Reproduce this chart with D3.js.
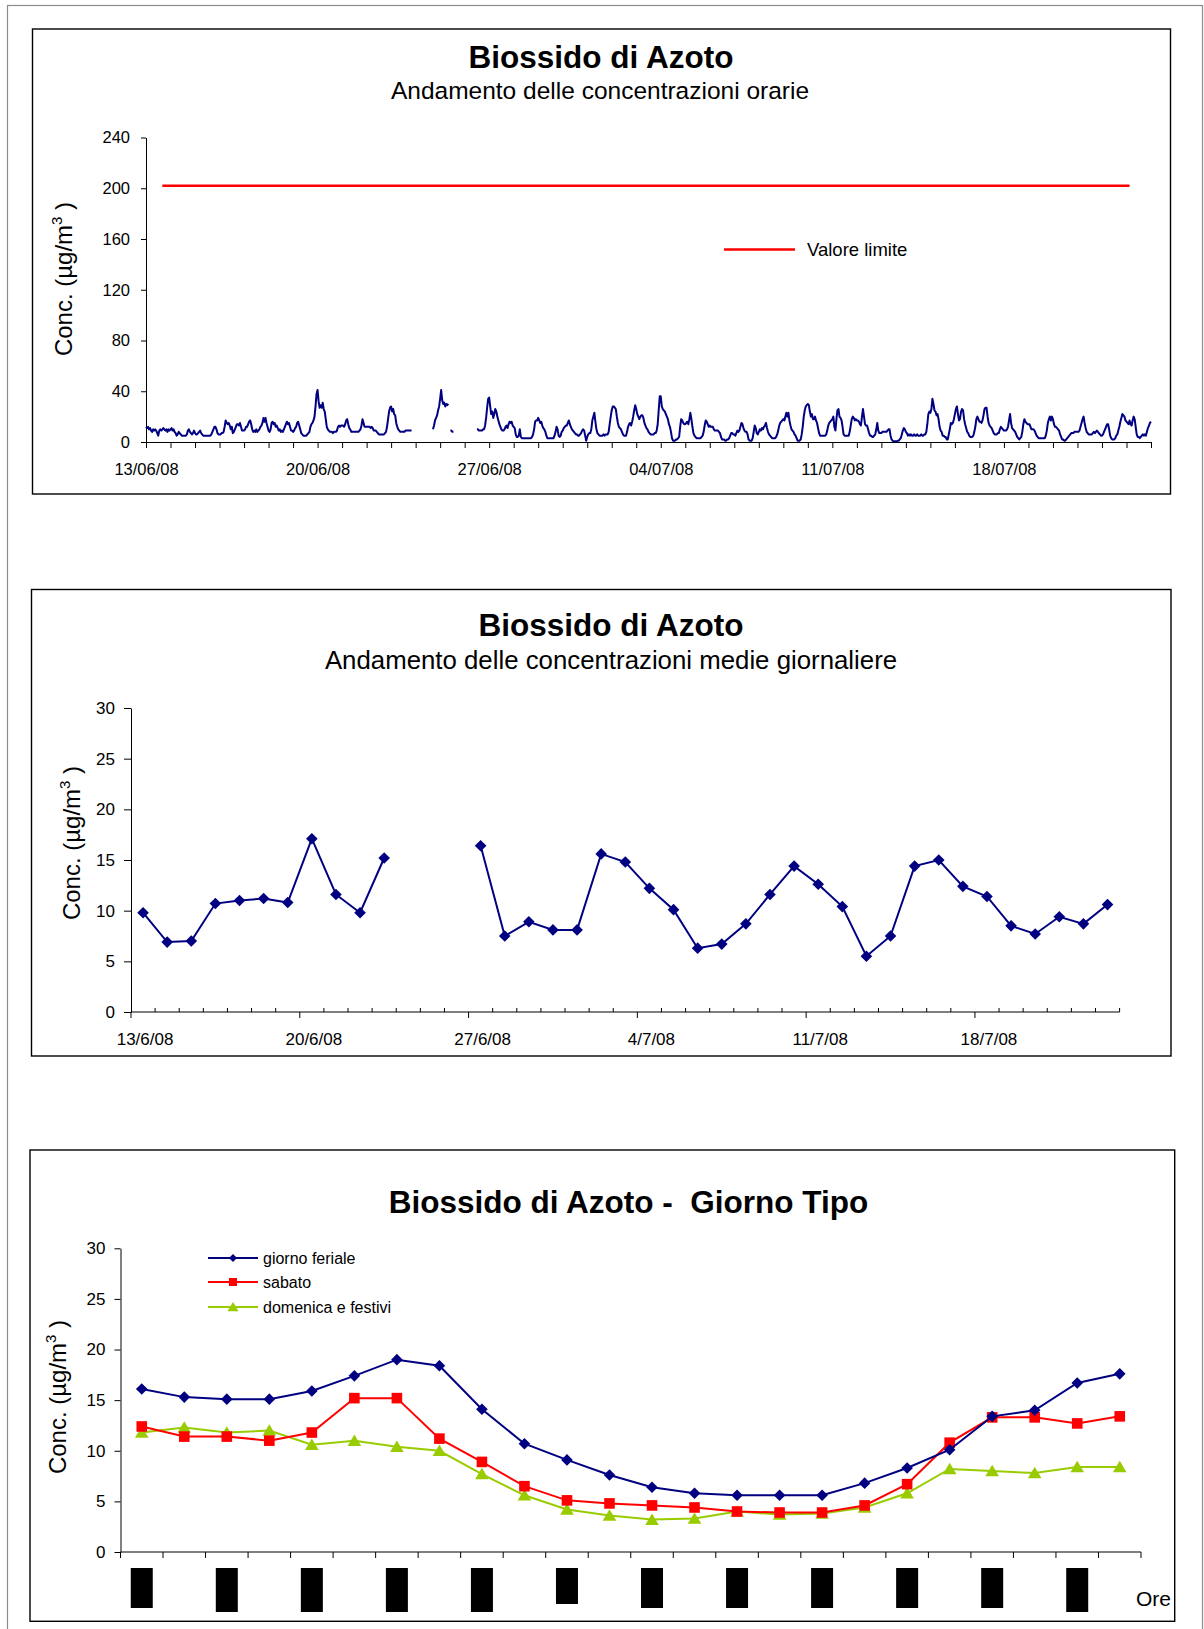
<!DOCTYPE html>
<html><head><meta charset="utf-8">
<script src="https://cdn.jsdelivr.net/npm/d3@7"></script>
<style>
body{margin:0;background:#fff}
svg{display:block}
text{font-family:"Liberation Sans",Arial,sans-serif;fill:#000}
</style>
</head><body>
<svg id="c" width="1204" height="1629"></svg>
<script>
// ---------------- DATA ----------------
// Chart 1: hourly NO2 (µg/m³), one row per day from 13/06/08, 24 values each (null = missing)
const hourlyStart = new Date(2008, 5, 13, 0);
const hourlyEnd = new Date(2008, 6, 24, 0);
const hourlyNO2 = [
 12,11,12,10,11,9,8,10,9,10,9,7,5,9,10,9,10,11,10,9,10,8,10,9,          // 13/06
 10,11,9,10,8,7,5,6,8,7,6,5,5,5,5,5,6,9,10,8,7,6,7,9,                   // 14/06
 7,6,6,7,8,9,7,6,5,5,5,5,5,5,5,5,6,8,10,12,12,10,7,6,                   // 15/06
 6,6,7,7,8,12,17,15,14,15,13,10,12,7,8,10,12,14,14,13,15,12,9,9,        // 16/06
 9,10,12,12,14,16,17,14,10,8,9,8,10,8,9,10,12,13,15,19,16,19,15,12,     // 17/06
 9,8,10,15,16,14,15,12,13,11,9,10,8,9,8,10,12,14,16,14,15,12,9,9,       // 18/06
 8,9,11,12,15,16,13,10,7,6,5,5,5,5,6,7,8,12,14,15,17,20,28,38,          // 19/06
 41,32,27,29,27,31,26,24,18,12,10,9,8,8,8,7,8,8,8,9,12,13,12,13,        // 20/06
 13,13,12,14,17,18,14,11,10,8,8,8,8,8,8,8,8,9,10,13,18,15,12,12,        // 21/06
 12,12,12,12,11,12,11,9,9,9,8,7,6,6,6,6,6,6,7,8,12,18,24,27,            // 22/06
 28,24,26,22,21,15,12,10,9,8,8,8,8,8,9,9,9,9,9,9,9,null,null,null,      // 23/06
 null,null,null,null,null,null,null,null,null,null,null,null,null,null,null,null,null,10,13,17,19,21,25,28, // 24/06
 34,41,33,30,31,28,30,29,30,null,9,9,8,8,null,null,null,null,null,null,null,null,null,null,               // 25/06
 null,null,null,null,null,null,null,null,null,null,null,null,10,10,9,9,9,9,10,10,13,19,27,34,             // 26/06
 35,28,22,24,19,22,26,24,20,17,14,12,10,9,9,10,12,13,11,14,16,15,16,13, // 27/06
 12,11,6,4,4,5,10,4,3,3,3,3,3,3,3,3,3,3,4,6,10,16,17,17,                // 28/06
 19,17,15,16,13,11,10,8,5,3,3,3,3,3,3,3,5,8,12,10,5,4,5,8,              // 29/06
 9,11,12,13,13,15,17,14,12,10,9,8,7,6,6,5,5,6,7,9,10,9,5,1,             // 30/06
 4,6,7,7,10,17,20,23,16,10,7,6,5,5,5,5,6,5,6,6,6,8,14,20,               // 01/07
 25,28,28,27,26,20,15,12,11,10,8,6,5,5,5,8,12,14,15,13,16,20,25,29,     // 02/07
 26,22,20,18,20,21,21,19,15,13,11,10,8,7,6,6,6,6,7,7,9,14,25,36,        // 03/07
 36,28,26,25,24,22,20,18,14,12,8,3,1,1,1,2,2,3,4,12,18,17,15,14,        // 04/07
 14,15,16,14,18,23,18,12,7,5,4,3,3,3,3,3,4,5,8,13,17,16,14,12,          // 05/07
 13,12,12,12,10,9,9,9,9,8,7,4,2,2,2,1,1,2,2,3,5,7,7,6,                  // 06/07
 6,5,7,9,8,9,12,15,14,11,9,8,8,6,2,1,1,1,3,8,13,11,7,6,                 // 07/07
 8,10,9,11,10,12,13,15,11,8,6,5,4,3,3,3,3,4,6,9,13,15,16,17,            // 08/07
 18,17,20,23,20,23,17,13,10,9,8,6,5,3,1,1,1,2,6,12,20,25,28,29,         // 09/07
 30,29,24,20,22,18,18,20,17,15,11,7,5,5,5,5,5,5,6,9,13,15,16,17,        // 10/07
 18,20,12,9,18,25,26,20,19,17,12,6,5,5,5,5,5,8,13,18,20,19,17,18,       // 11/07
 17,17,16,14,13,20,26,20,14,13,13,10,7,5,5,4,4,5,6,10,15,9,7,7,         // 12/07
 7,8,8,8,8,8,9,10,10,5,2,1,0.5,0.5,0.5,0.5,1,1,2,3,6,9,11,10,           // 13/07
 8,7,5,6,5,6,5,5,6,5,5,6,5,5,5,6,5,5,6,6,8,14,22,24,                    // 14/07
 23,26,34,30,25,24,21,22,18,12,9,8,5,5,4,4,2,2,6,10,15,14,15,18,        // 15/07
 22,26,28,22,17,18,24,26,25,18,14,11,8,7,5,4,4,4,5,8,12,18,20,18,       // 16/07
 16,16,15,17,21,26,27,27,20,15,13,12,11,9,7,6,6,6,7,7,10,12,11,10,      // 17/07
 9,9,9,10,12,17,22,15,11,10,9,8,6,4,3,2,3,4,8,14,18,16,15,14,           // 18/07
 14,14,12,10,10,10,9,7,5,4,3,3,3,3,3,3,3,5,9,15,18,20,17,20,            // 19/07
 18,14,12,12,11,10,9,6,4,2,2,1,1,2,3,4,5,6,7,7,7,8,8,8,                 // 20/07
 8,8,9,12,15,18,20,15,11,8,7,6,6,6,6,7,8,7,8,9,8,7,6,5,                 // 21/07
 5,6,8,10,12,14,14,10,5,3,2,2,2,3,5,6,9,12,16,19,22,21,20,17,           // 22/07
 16,15,14,17,14,13,17,20,18,12,6,4,4,3,4,5,6,5,6,5,8,11,13,15,          // 23/07
 16                                                                      // 24/07 00:00
];
const limitValue = 202;   // as drawn in the picture (just above the 200 gridline)
const limitSpan = [new Date(2008, 5, 13, 16), new Date(2008, 6, 23, 3)];
const limitLabel = "Valore limite";
const hourlyYTicks = [0, 40, 80, 120, 160, 200, 240];

// Chart 2: daily means
const dailyDates = ["13/6/08","14/6/08","15/6/08","16/6/08","17/6/08","18/6/08","19/6/08","20/6/08","21/6/08","22/6/08",
 "23/6/08","24/6/08","25/6/08","26/6/08","27/6/08","28/6/08","29/6/08","30/6/08","1/7/08","2/7/08",
 "3/7/08","4/7/08","5/7/08","6/7/08","7/7/08","8/7/08","9/7/08","10/7/08","11/7/08","12/7/08",
 "13/7/08","14/7/08","15/7/08","16/7/08","17/7/08","18/7/08","19/7/08","20/7/08","21/7/08","22/7/08","23/7/08"];
const dailyMean = [9.8,6.9,7.0,10.7,11.0,11.2,10.8,17.1,11.6,9.8,
 15.2,null,null,null,16.4,7.5,8.9,8.1,8.1,15.6,
 14.8,12.2,10.1,6.3,6.7,8.7,11.6,14.4,12.6,10.4,
 5.5,7.5,14.4,15.0,12.4,11.4,8.5,7.7,9.4,8.7,10.6];
const dailyYTicks = [0, 5, 10, 15, 20, 25, 30];

// Chart 3: typical day
const hours = [1,2,3,4,5,6,7,8,9,10,11,12,13,14,15,16,17,18,19,20,21,22,23,24];
const feriale = [16.1,15.3,15.1,15.1,15.9,17.4,19.0,18.4,14.1,10.7,9.1,7.6,6.4,5.8,5.6,5.6,5.6,6.8,8.3,10.1,13.4,14.0,16.7,17.6];
const sabato = [12.4,11.4,11.4,11.0,11.8,15.2,15.2,11.2,8.9,6.5,5.1,4.8,4.6,4.4,4.0,3.9,3.9,4.6,6.7,10.8,13.3,13.3,12.7,13.4];
const domenica = [11.8,12.3,11.8,12.0,10.6,11.0,10.4,10.0,7.7,5.6,4.2,3.6,3.2,3.3,4.0,3.7,3.8,4.4,5.8,8.2,8.0,7.8,8.4,8.4];
const seriesNames = ["giorno feriale", "sabato", "domenica e festivi"];
const tipoYTicks = [0, 5, 10, 15, 20, 25, 30];
const hourLabelBoxHours = [1,3,5,7,9,11,13,15,17,19,21,23];
const hourLabelBoxLen = [40,44,44,44,44,36,40,40,40,40,40,44];

// ---------------- DRAWING ----------------
const NAVY = "#000080", RED = "#ff0000", GREEN = "#99cc00";
const svg = d3.select("#c");

// outer page frame
svg.append("rect").attr("x",7.5).attr("y",5.5).attr("width",1195).attr("height",1660)
  .attr("fill","none").attr("stroke","#8c8c8c").attr("stroke-width",1.2);

function panel(x,y,w,h){
  svg.append("rect").attr("x",x).attr("y",y).attr("width",w).attr("height",h)
    .attr("fill","#fff").attr("stroke","#000").attr("stroke-width",1.4);
}
function title(x,y,t,size,bold){
  svg.append("text").attr("x",x).attr("y",y).attr("text-anchor","middle")
    .style("white-space","pre")
    .attr("font-size",size).attr("font-weight",bold?"bold":"normal").text(t);
}
function yLabel(x,y){
  const t = svg.append("text").attr("transform",`translate(${x},${y}) rotate(-90)`)
    .attr("text-anchor","middle").attr("font-size",24);
  t.append("tspan").text("Conc. (µg/m");
  t.append("tspan").attr("dy",-10).attr("font-size",15).text("3");
  t.append("tspan").attr("dy",10).style("white-space","pre").text(" )");
}
function styleAxis(g, fs){
  g.selectAll("path.domain").attr("stroke","#000").attr("stroke-width",1);
  g.selectAll(".tick line").attr("stroke","#000").attr("stroke-width",1);
  g.selectAll(".tick text").attr("font-size",fs).attr("fill","#000")
    .attr("font-family",'"Liberation Sans",Arial,sans-serif');
}

// ===== Chart 1 =====
panel(32.5,29,1138,465);
title(601,68,"Biossido di Azoto",31.5,true);
title(600,99,"Andamento delle concentrazioni orarie",24.5,false);
yLabel(72,279);

const x1 = d3.scaleTime().domain([hourlyStart, hourlyEnd]).range([146,1151]);
const y1 = d3.scaleLinear().domain([0,240]).range([442,137.5]);
const fmt1 = d3.timeFormat("%d/%m/%y");
const days1 = d3.timeDay.range(hourlyStart, d3.timeDay.offset(hourlyEnd,1));

const gy1 = svg.append("g").attr("transform","translate(146,0)")
  .call(d3.axisLeft(y1).tickValues(hourlyYTicks).tickSize(5).tickPadding(11).tickSizeOuter(0));
styleAxis(gy1,16.5);
const gx1 = svg.append("g").attr("transform","translate(0,442)")
  .call(d3.axisBottom(x1).tickValues(days1).tickSize(6).tickPadding(15).tickSizeOuter(0)
    .tickFormat((d,i)=> i%7===0 ? fmt1(d) : ""));
styleAxis(gx1,16.5);

// limit line
svg.append("line").attr("x1",x1(limitSpan[0])).attr("x2",x1(limitSpan[1]))
  .attr("y1",y1(limitValue)).attr("y2",y1(limitValue))
  .attr("stroke",RED).attr("stroke-width",2.6);

// hourly series
const hourlyPts = hourlyNO2.map((v,i)=>({t:d3.timeHour.offset(hourlyStart,i), v}));
svg.append("path").datum(hourlyPts)
  .attr("fill","none").attr("stroke",NAVY).attr("stroke-width",2).attr("stroke-linejoin","round")
  .attr("d", d3.line().defined(d=>d.v!==null).x(d=>x1(d.t)).y(d=>y1(d.v)));

// legend chart 1
svg.append("line").attr("x1",724).attr("x2",795).attr("y1",249.5).attr("y2",249.5)
  .attr("stroke",RED).attr("stroke-width",2.6);
svg.append("text").attr("x",807).attr("y",255.5).attr("font-size",18.5).text(limitLabel);

// ===== Chart 2 =====
panel(31.5,589.5,1139.5,466.5);
title(611,636,"Biossido di Azoto",31.5,true);
title(611,669,"Andamento delle concentrazioni medie giornaliere",25.8,false);
yLabel(80,843);

const x2 = d3.scaleBand().domain(dailyDates).range([131,1119.6]).padding(0);
const y2 = d3.scaleLinear().domain([0,30]).range([1012,708]);
const gy2 = svg.append("g").attr("transform","translate(131,0)")
  .call(d3.axisLeft(y2).tickValues(dailyYTicks).tickSize(7).tickPadding(9).tickSizeOuter(0));
styleAxis(gy2,17);

// x axis chart 2 (category axis, majors every 7 categories)
const bw2 = x2.bandwidth();
const g2x = svg.append("g");
g2x.append("line").attr("x1",131).attr("x2",1119.6).attr("y1",1012).attr("y2",1012).attr("stroke","#000");
d3.range(dailyDates.length+1).forEach(i=>{
  const xx = 131 + i*bw2;
  const major = i%7===0 && i<dailyDates.length;
  g2x.append("line").attr("x1",xx).attr("x2",xx)
    .attr("y1",1012).attr("y2",major?1018:1008).attr("stroke","#000");
});
dailyDates.forEach((d,i)=>{
  if(i%7===0) g2x.append("text").attr("x",x2(d)+bw2/2+2).attr("y",1045)
    .attr("text-anchor","middle").attr("font-size",17).text(d);
});

const dailyPts = dailyDates.map((d,i)=>({d, v:dailyMean[i]}));
svg.append("path").datum(dailyPts).attr("fill","none").attr("stroke",NAVY).attr("stroke-width",2)
  .attr("d", d3.line().defined(d=>d.v!==null).x(d=>x2(d.d)+bw2/2).y(d=>y2(d.v)));
const diamond = r => `M0,${-r}L${r},0L0,${r}L${-r},0Z`;
svg.append("g").selectAll("path").data(dailyPts.filter(d=>d.v!==null)).join("path")
  .attr("transform",d=>`translate(${x2(d.d)+bw2/2},${y2(d.v)})`)
  .attr("d",diamond(5.8)).attr("fill",NAVY);

// ===== Chart 3 =====
panel(30,1150,1144.7,471.3);
title(628.5,1213,"Biossido di Azoto -  Giorno Tipo",31.5,true);
yLabel(66,1397);

const x3 = d3.scaleBand().domain(hours).range([120.5,1141]).padding(0);
const y3 = d3.scaleLinear().domain([0,30]).range([1552,1248.3]);
const bw3 = x3.bandwidth();
const gy3 = svg.append("g").attr("transform","translate(120.5,0)")
  .call(d3.axisLeft(y3).tickValues(tipoYTicks).tickSize(6).tickPadding(9).tickSizeOuter(0));
styleAxis(gy3,17);
const g3x = svg.append("g");
g3x.append("line").attr("x1",120.5).attr("x2",1141).attr("y1",1552).attr("y2",1552).attr("stroke","#000");
d3.range(hours.length+1).forEach(i=>{
  const xx = 120.5 + i*bw3;
  g3x.append("line").attr("x1",xx).attr("x2",xx).attr("y1",1552).attr("y2",1558).attr("stroke","#000");
});
// hour label blocks (rendered as solid blocks in the original)
g3x.selectAll("rect").data(hourLabelBoxHours).join("rect")
  .attr("x",d=>x3(d)+bw3/2-11).attr("y",1568).attr("width",22)
  .attr("height",(d,i)=>hourLabelBoxLen[i]).attr("fill","#000");
svg.append("text").attr("x",1171).attr("y",1605.5).attr("text-anchor","end").attr("font-size",21).text("Ore");

const square = r => `M${-r},${-r}H${r}V${r}H${-r}Z`;
const triangle = r => `M0,${-r}L${r*1.1},${r*0.85}L${-r*1.1},${r*0.85}Z`;
const tipoSeries = [
  {name:seriesNames[0], vals:feriale, color:NAVY, sym:diamond(5.8), lsym:diamond(4)},
  {name:seriesNames[1], vals:sabato, color:RED, sym:square(5.3), lsym:square(4)},
  {name:seriesNames[2], vals:domenica, color:GREEN, sym:triangle(6.2), lsym:triangle(5)}
];
[...tipoSeries].reverse().forEach(s=>{
  const pts = hours.map((h,i)=>({h, v:s.vals[i]}));
  svg.append("path").datum(pts).attr("fill","none").attr("stroke",s.color).attr("stroke-width",2)
    .attr("d", d3.line().x(d=>x3(d.h)+bw3/2).y(d=>y3(d.v)));
  svg.append("g").selectAll("path").data(pts).join("path")
    .attr("transform",d=>`translate(${x3(d.h)+bw3/2},${y3(d.v)})`)
    .attr("d",s.sym).attr("fill",s.color);
});
// legend chart 3
tipoSeries.forEach((s,i)=>{
  const yy = [1258,1282,1307][i];
  svg.append("line").attr("x1",208).attr("x2",258).attr("y1",yy).attr("y2",yy)
    .attr("stroke",s.color).attr("stroke-width",2);
  svg.append("path").attr("transform",`translate(233,${yy})`).attr("d",s.lsym).attr("fill",s.color);
  svg.append("text").attr("x",263).attr("y",yy+5.5).attr("font-size",16).text(s.name);
});
</script>
</body></html>
